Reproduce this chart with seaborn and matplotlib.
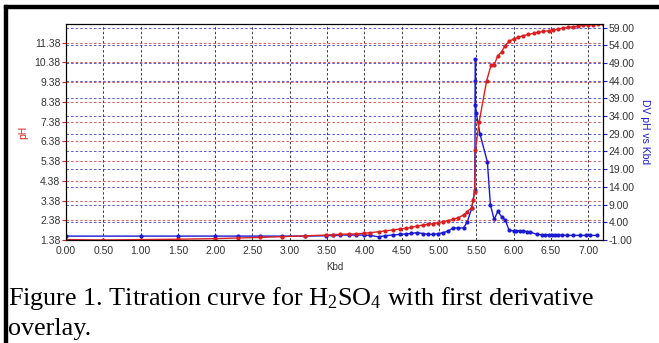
import matplotlib
matplotlib.use("Agg")
import matplotlib.pyplot as plt
from matplotlib.patches import Rectangle
import seaborn as sns
import pandas as pd

# ---- data ----
ph_kbd = [0.0, 0.5, 1.0, 1.5, 2.0, 2.3, 2.6, 2.9, 3.2, 3.49, 3.58, 3.68, 3.79, 3.89, 3.99,
          4.08, 4.19, 4.28, 4.38, 4.48, 4.56, 4.63, 4.71, 4.79, 4.86, 4.92, 4.99, 5.06, 5.12,
          5.19, 5.26, 5.33, 5.38, 5.44, 5.46, 5.48, 5.49, 5.54, 5.64, 5.70, 5.74, 5.79, 5.84,
          5.88, 5.94, 6.0, 6.06, 6.13, 6.2, 6.27, 6.33, 6.4, 6.47, 6.53, 6.6, 6.67, 6.73, 6.8,
          6.87, 6.93, 7.0, 7.07, 7.13, 7.2]
ph_vals = [1.40, 1.38, 1.40, 1.42, 1.45, 1.48, 1.51, 1.55, 1.59, 1.63, 1.65, 1.67, 1.68, 1.69,
           1.72, 1.75, 1.80, 1.84, 1.89, 1.94, 1.97, 2.02, 2.09, 2.14, 2.18, 2.21, 2.26, 2.31,
           2.36, 2.43, 2.51, 2.65, 2.82, 3.02, 3.41, 3.83, 5.95, 7.38, 9.45, 10.26, 10.26, 10.72,
           10.92, 11.19, 11.45, 11.57, 11.65, 11.74, 11.80, 11.86, 11.91, 11.95, 11.99, 12.03,
           12.07, 12.13, 12.16, 12.19, 12.22, 12.26, 12.28, 12.30, 12.32, 12.34]

dv_kbd = [0.0, 1.0, 1.5, 2.0, 2.3, 2.6, 2.9, 3.2, 3.49, 3.58, 3.68, 3.79, 3.89, 3.99, 4.08,
          4.19, 4.28, 4.38, 4.48, 4.56, 4.63, 4.71, 4.79, 4.86, 4.92, 4.99, 5.06, 5.12, 5.19,
          5.26, 5.33, 5.38, 5.44, 5.48, 5.49, 5.49, 5.49, 5.50, 5.55, 5.65, 5.69, 5.74, 5.79,
          5.84, 5.89, 5.94, 6.0, 6.04, 6.09, 6.13, 6.18, 6.22, 6.31, 6.38, 6.42, 6.47, 6.51,
          6.56, 6.6, 6.65, 6.72, 6.8, 6.89, 6.97, 7.03, 7.12]
dv_vals = [0.1, 0.1, 0.1, 0.1, 0.1, 0.1, 0.1, 0.1, 0.2, 0.3, 0.4, 0.4, 0.4, 0.4, 0.3,
           -0.1, 0.2, 0.4, 0.6, 0.7, 0.85, 1.1, 0.8, 0.6, 0.6, 0.8, 1.1, 1.5, 2.4,
           2.4, 2.4, 4.1, 8.0, 13.0, 50.0, 44.0, 37.0, 35.0, 29.0, 21.0, 9.0, 4.8, 7.1,
           5.6, 4.6, 1.8, 1.6, 1.6, 1.6, 1.5, 1.4, 1.3, 0.6, 0.5, 0.5, 0.5, 0.4,
           0.4, 0.4, 0.4, 0.3, 0.3, 0.3, 0.3, 0.3, 0.3]

x_ticks = [0.0, 0.5, 1.0, 1.5, 2.0, 2.5, 3.0, 3.5, 4.0, 4.5, 5.0, 5.5, 6.0, 6.5, 7.0]
ph_ticks = [1.38, 2.38, 3.38, 4.38, 5.38, 6.38, 7.38, 8.38, 9.38, 10.38, 11.38]
dv_ticks = [-1, 4, 9, 14, 19, 24, 29, 34, 39, 44, 49, 54, 59]

x_label = "Kbd"
ph_label = "pH"
dv_label = "DV pH vs Kbd"
caption1 = r"Figure 1. Titration curve for H$_{2}$SO$_{4}$ with first derivative"
caption2 = "overlay."

RED = "#d92020"
BLUE = "#1a1ad0"

sns.set_style("white")
plt.rcParams['font.family'] = ['Liberation Sans', 'DejaVu Sans']
plt.rcParams['mathtext.fontset'] = 'custom'
plt.rcParams['mathtext.rm'] = 'Liberation Serif'
plt.rcParams['mathtext.it'] = 'Liberation Serif:italic'

W, H = 659, 343
fig = plt.figure(figsize=(W / 100, H / 100), dpi=100)
fig.patch.set_facecolor("white")

ax = fig.add_axes([66 / W, 1 - 240 / H, (603 - 66) / W, 216 / H])
ax2 = ax.twinx()
ax.set_zorder(2)
ax2.set_zorder(1)
ax.patch.set_visible(False)

df_ph = pd.DataFrame({"Kbd": ph_kbd, "pH": ph_vals})
df_dv = pd.DataFrame({"Kbd": dv_kbd, "DV": dv_vals})

sns.lineplot(data=df_dv, x="Kbd", y="DV", ax=ax2, color=BLUE, lw=1.0, marker="o",
             markersize=3, markeredgewidth=0, estimator=None, sort=False)
sns.lineplot(data=df_ph, x="Kbd", y="pH", ax=ax, color=RED, lw=1.0, marker="o",
             markersize=3, markeredgewidth=0, estimator=None, sort=False)

ax.set_xlim(0, 7.2)
ax.set_ylim(1.38, 12.33)
ax2.set_ylim(-1, 60)

ax.set_xticks(x_ticks)
ax.set_xticklabels([f"{t:.2f}" for t in x_ticks])
ax.set_yticks(ph_ticks)
ax.set_yticklabels([f"{t:.2f}" for t in ph_ticks])
ax2.set_yticks(dv_ticks)
ax2.set_yticklabels([f"{t:.2f}" for t in dv_ticks])

# gridlines
dash = (0, (3, 2.5))
for t in x_ticks[1:]:
    ax2.axvline(t, color="#222222", lw=0.6, ls=dash, zorder=0)
ax.yaxis.grid(True, color=RED, lw=0.6, ls=dash, alpha=0.85)
ax2.yaxis.grid(True, color=BLUE, lw=0.6, ls=dash, alpha=0.85)
ax2.set_axisbelow(True)

ax.tick_params(axis="x", colors="black", labelcolor="#333333", labelsize=7.5, length=3,
               width=0.8, direction="out", pad=1.5)
ax.tick_params(axis="y", colors=RED, labelcolor="#333333", labelsize=7.5, length=3,
               width=0.8, direction="out", pad=1)
ax2.tick_params(axis="y", colors=BLUE, labelcolor="#333333", labelsize=7.5, length=3,
                width=0.8, direction="out", pad=1)

ax.set_xlabel(x_label, fontsize=7, color="#333333", labelpad=4)
ax.set_ylabel(ph_label, fontsize=7.5, color=RED, labelpad=4)
ax2.set_ylabel(dv_label, fontsize=7.5, color=BLUE, rotation=270, labelpad=11)
ax2.set_xlabel("")

for a in (ax, ax2):
    for s in a.spines.values():
        s.set_color("black")
        s.set_linewidth(0.8)

# page border bars
fig.patches.append(Rectangle((4 / W, 1 - 8 / H), 1, 3 / H, transform=fig.transFigure,
                             color="black", zorder=10))
fig.patches.append(Rectangle((4 / W, 0), 3 / W, 1 - 5 / H, transform=fig.transFigure,
                             color="black", zorder=10))

fig.text(8 / W, 1 - 305 / H, caption1, family="Liberation Serif", fontsize=18.8,
         va="baseline", ha="left", color="black")
fig.text(8 / W, 1 - 335 / H, caption2, family="Liberation Serif", fontsize=18.8,
         va="baseline", ha="left", color="black")

fig.savefig("out.png", dpi=100)
